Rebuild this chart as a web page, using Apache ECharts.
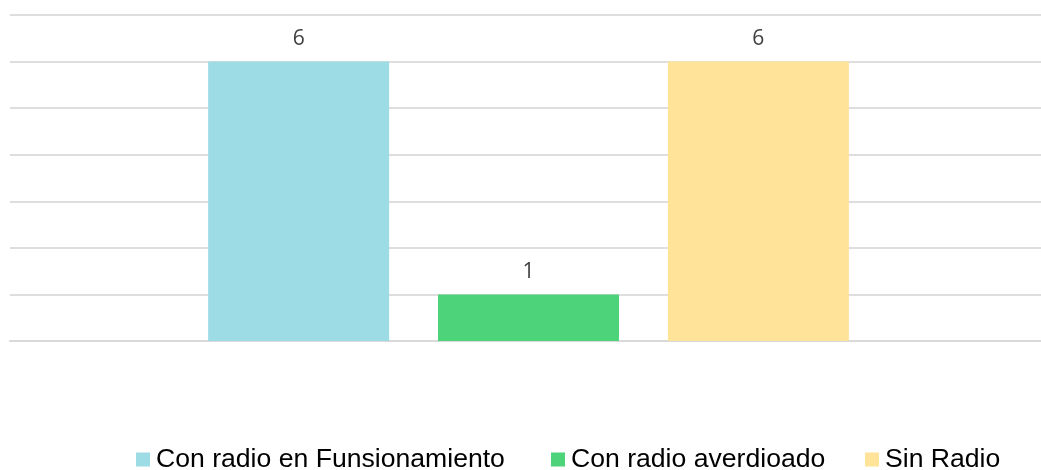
<!DOCTYPE html>
<html>
<head>
<meta charset="utf-8">
<script src="https://cdn.jsdelivr.net/npm/echarts@6/dist/echarts.min.js"></script>
<style>html,body{margin:0;padding:0;background:#fff;}#chart{width:1041px;height:470px;}</style>
</head>
<body>
<div id="chart"></div>
<script>
const categories = [''];
const seriesNames = ['Con radio en Funsionamiento', 'Con radio averdioado', 'Sin Radio'];
const seriesValues = [[6], [1], [6]];
const seriesColors = ['#9EDCE5', '#4DD37A', '#FFE399'];
const yMax = 7;
const yStep = 1;

const legendLefts = [136, 551, 865];
const chart = echarts.init(document.getElementById('chart'));
chart.setOption({
  animation: false,
  backgroundColor: '#ffffff',
  grid: [
    { left: 10, right: 0, top: 15, bottom: 129, containLabel: false },
    { left: 16, right: 0, top: 15, bottom: 129, containLabel: false }
  ],
  legend: seriesNames.map((n, i) => ({
    left: legendLefts[i], top: 446, padding: 0,
    itemWidth: 14, itemHeight: 14, itemGap: 0,
    icon: 'rect',
    textStyle: { fontFamily: 'Liberation Sans', fontSize: 26.6, color: '#000000', padding: [0, 0, 0, 1] },
    data: [n]
  })),
  xAxis: [
    { type: 'category', data: categories, gridIndex: 0,
      axisLine: { show: true, lineStyle: { color: '#d9d9d9', width: 2 } },
      axisTick: { show: false }, axisLabel: { show: false } },
    { type: 'category', data: categories, gridIndex: 1,
      axisLine: { show: false }, axisTick: { show: false }, axisLabel: { show: false } }
  ],
  yAxis: [
    { type: 'value', min: 0, max: yMax, interval: yStep, gridIndex: 0,
      axisLabel: { show: false }, axisLine: { show: false }, axisTick: { show: false },
      splitLine: { lineStyle: { color: '#dedede', width: 2 } } },
    { type: 'value', min: 0, max: yMax, interval: yStep, gridIndex: 1,
      axisLabel: { show: false }, axisLine: { show: false }, axisTick: { show: false },
      splitLine: { show: false } }
  ],
  series: seriesNames.map((n, i) => ({
    name: n, type: 'bar', data: seriesValues[i],
    xAxisIndex: 1, yAxisIndex: 1,
    barWidth: 181, barGap: '27%',
    itemStyle: { color: seriesColors[i] },
    label: { show: true, position: 'top', distance: 12, color: '#404040',
      fontFamily: 'Open Sans', fontSize: 21 }
  }))
});
</script>
</body>
</html>
